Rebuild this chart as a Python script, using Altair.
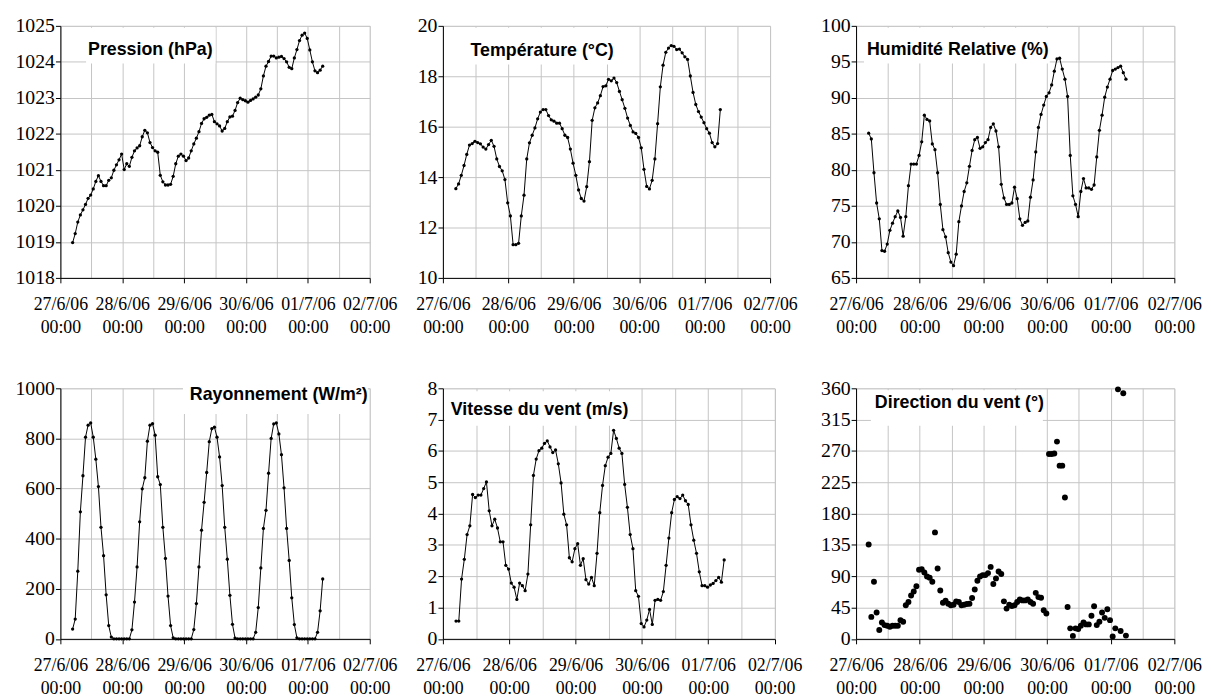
import altair as alt
import pandas as pd

# ---------------- data ----------------
day_labels = ["27/6/06", "28/6/06", "29/6/06", "30/6/06", "01/7/06", "02/7/06"]
hour_label = "00:00"
axis_origin = "2006-06-27 00:00"
start_time = "2006-06-27 04:45"

pression = [1018.98, 1019.23, 1019.55, 1019.75, 1019.89, 1020.04, 1020.21, 1020.30, 1020.47, 1020.68,
            1020.84, 1020.68, 1020.56, 1020.56, 1020.71, 1020.78, 1020.99, 1021.14, 1021.28, 1021.44,
            1021.01, 1021.17, 1021.10, 1021.35, 1021.53, 1021.61, 1021.67, 1021.92, 1022.10, 1022.03,
            1021.76, 1021.62, 1021.53, 1021.49, 1020.85, 1020.67, 1020.58, 1020.58, 1020.60, 1020.82,
            1021.17, 1021.38, 1021.44, 1021.38, 1021.26, 1021.33, 1021.53, 1021.72, 1021.88, 1022.06,
            1022.29, 1022.42, 1022.46, 1022.52, 1022.54, 1022.34, 1022.28, 1022.22, 1022.08, 1022.15,
            1022.34, 1022.47, 1022.49, 1022.65, 1022.87, 1022.99, 1022.95, 1022.92, 1022.88, 1022.93,
            1022.97, 1023.02, 1023.08, 1023.25, 1023.61, 1023.88, 1024.01, 1024.16, 1024.16, 1024.11,
            1024.13, 1024.15, 1024.09, 1024.00, 1023.85, 1023.81, 1024.11, 1024.34, 1024.59, 1024.74,
            1024.80, 1024.65, 1024.33, 1024.00, 1023.75, 1023.70, 1023.77, 1023.88]

temperature = [13.54, 13.73, 14.07, 14.46, 14.90, 15.27, 15.33, 15.42, 15.37, 15.32,
               15.19, 15.11, 15.29, 15.46, 15.22, 14.72, 14.42, 14.25, 13.90, 12.98,
               12.46, 11.32, 11.32, 11.37, 12.46, 13.28, 14.72, 15.36, 15.66, 15.95,
               16.31, 16.58, 16.68, 16.68, 16.44, 16.27, 16.22, 16.14, 16.14, 15.92,
               15.66, 15.57, 15.11, 14.55, 14.07, 13.49, 13.15, 13.05, 13.62, 14.61,
               16.25, 16.75, 16.94, 17.23, 17.59, 17.62, 17.88, 17.82, 17.93, 17.75,
               17.40, 17.07, 16.73, 16.34, 16.05, 15.79, 15.73, 15.57, 15.16, 14.31,
               13.63, 13.53, 13.87, 14.72, 16.12, 17.58, 18.44, 18.95, 19.12, 19.22,
               19.19, 19.06, 19.08, 18.93, 18.77, 18.67, 18.01, 17.36, 16.88, 16.60,
               16.38, 16.16, 15.92, 15.74, 15.37, 15.20, 15.33, 16.68]

humidite = [85.1, 84.3, 79.6, 75.4, 73.2, 68.8, 68.7, 69.7, 71.6, 72.6,
            73.5, 74.3, 73.4, 70.8, 73.5, 77.8, 80.8, 80.8, 80.8, 82.0,
            83.9, 87.6, 87.0, 86.8, 83.6, 82.8, 79.6, 75.2, 71.7, 70.7,
            68.5, 67.2, 66.7, 68.3, 72.8, 75.0, 77.0, 78.2, 80.5, 82.7,
            84.2, 84.5, 83.0, 83.2, 83.8, 84.2, 85.9, 86.4, 85.4, 83.2,
            78.0, 76.1, 75.2, 75.2, 75.4, 77.6, 76.0, 73.2, 72.3, 72.7,
            72.9, 76.2, 78.6, 82.5, 85.9, 87.7, 89.0, 90.2, 90.7, 91.8,
            93.7, 95.4, 95.5, 94.0, 92.6, 90.2, 82.0, 76.4, 75.2, 73.5,
            77.0, 78.8, 77.5, 77.5, 77.3, 77.9, 81.8, 85.5, 87.6, 90.1,
            91.5, 92.6, 93.8, 94.0, 94.2, 94.4, 93.5, 92.6]

rayonnement = [39, 79, 270, 507, 651, 805, 853, 862, 805, 717, 608, 445, 332, 176, 53, 7,
               0, 0, 0, 0, 0, 0, 0,
               36, 147, 287, 467, 599, 643, 789, 853, 859, 813, 647, 616, 445, 321, 171, 53, 4,
               0, 0, 0, 0, 0, 0, 0,
               37, 141, 287, 434, 545, 664, 787, 839, 845, 805, 726, 612, 445, 318, 174, 58, 3,
               0, 0, 0, 0, 0, 0, 0,
               26, 125, 283, 441, 513, 661, 800, 858, 862, 818, 735, 603, 441, 313, 164, 57, 4,
               0, 0, 0, 0, 0, 0, 0,
               26, 112, 239]

vitesse = [0.57, 0.57, 1.91, 2.54, 3.33, 3.61, 4.61, 4.51, 4.59, 4.59,
           4.80, 5.01, 4.09, 3.61, 3.82, 3.54, 3.10, 3.10, 2.35, 2.23,
           1.78, 1.65, 1.26, 1.78, 1.70, 1.54, 2.07, 3.64, 5.22, 5.74,
           6.01, 6.09, 6.24, 6.32, 6.13, 5.95, 6.03, 5.59, 4.98, 3.98,
           3.64, 2.59, 2.46, 2.88, 3.04, 2.35, 2.56, 1.89, 1.75, 1.96,
           1.70, 2.73, 4.03, 4.90, 5.53, 5.80, 5.92, 6.66, 6.40, 6.09,
           5.92, 4.93, 4.20, 3.33, 2.88, 1.54, 1.36, 0.49, 0.38, 0.60,
           0.94, 0.46, 1.23, 1.26, 1.23, 1.51, 2.35, 3.22, 4.03, 4.45,
           4.54, 4.48, 4.59, 4.41, 4.29, 3.64, 3.15, 2.73, 2.14, 1.70,
           1.70, 1.65, 1.72, 1.77, 1.86, 1.96, 1.81, 2.52]

direction = [135.6, 31.6, 82.2, 37.8, 12.8, 23.6, 19.8, 18.9, 17.5, 18.9,
             18.9, 18.9, 26.9, 24.6, 48.2, 52.9, 62.4, 68.0, 75.6, 99.2,
             100.1, 95.4, 89.7, 88.0, 82.2, 153.0, 101.1, 69.4, 52.0, 54.8,
             50.5, 48.2, 49.1, 53.9, 52.9, 48.2, 49.1, 50.1, 50.5, 58.6,
             70.9, 83.6, 89.7, 91.6, 91.6, 94.5, 103.4, 78.9, 86.9,
             96.8, 93.1, 53.9, 43.5, 49.1, 47.2, 48.2, 52.9, 56.7, 55.3,
             55.3, 56.7, 52.9, 50.5, 66.1, 60.0, 59.0, 41.1, 36.4, 265.5,
             265.5, 266.4, 283.4, 248.9, 248.9, 203.1, 45.8, 15.1, 4.3, 15.1,
             14.2, 18.9, 23.6, 20.8, 20.8, 33.1, 46.8, 19.8, 24.6, 37.8,
             30.2, 42.5, 26.9, 3.3, 15.1, 358.5, 11.3, 352.9, 4.7]

titles = ["Pression (hPa)", "Température (°C)", "Humidité Relative (%)",
          "Rayonnement (W/m²)", "Vitesse du vent (m/s)", "Direction du vent (°)"]

ticks_p = [1018, 1019, 1020, 1021, 1022, 1023, 1024, 1025]
ticks_t = [10, 12, 14, 16, 18, 20]
ticks_h = [65, 70, 75, 80, 85, 90, 95, 100]
ticks_r = [0, 200, 400, 600, 800, 1000]
ticks_v = [0, 1, 2, 3, 4, 5, 6, 7, 8]
ticks_d = [0, 45, 90, 135, 180, 225, 270, 315, 360]

# ---------------- table ----------------
origin = pd.Timestamp(axis_origin)
times = pd.date_range(start_time, periods=len(pression), freq="h")
df = pd.DataFrame({
    "h": (times - origin) / pd.Timedelta(hours=1),
    "pression": pression,
    "temperature": temperature,
    "humidite": humidite,
    "rayonnement": rayonnement,
    "vitesse": vitesse,
})
times_dir = pd.date_range(start_time, periods=len(direction), freq="h")
df_dir = pd.DataFrame({"h": (times_dir - origin) / pd.Timedelta(hours=1), "direction": direction})

# ---------------- styling ----------------
SERIF = "'Liberation Serif', 'Times New Roman', 'DejaVu Serif', serif"
SANS = "'Liberation Sans', Arial, sans-serif"
GRID = "#c4c4c4"

label_expr = ("datum.value % 24 == 0 ? [" + str(day_labels) + "[datum.value / 24], '"
              + hour_label + "'] : ''")

x_axis = alt.Axis(
    values=list(range(0, 121, 12)), labelExpr=label_expr, title=None,
    grid=True, gridColor=GRID, gridWidth=1,
    tickOpacity={"condition": {"test": "datum.value % 24 == 0", "value": 1}, "value": 0},
    tickSize=5, tickColor="black", domainColor="black",
    labelFont=SERIF, labelFontSize=18, labelColor="black",
    labelPadding=13, labelLineHeight=23, labelFlush=False, labelOverlap=False,
)


def y_axis(ticks):
    return alt.Axis(values=ticks, format="d", title=None, grid=True, gridColor=GRID, gridWidth=1,
                    tickSize=5, tickColor="black", domainColor="black",
                    labelFont=SERIF, labelFontSize=20, labelColor="black",
                    labelPadding=1, labelFlush=False, labelOverlap=False)


def panel(data, field, ticks, title, w, h, box, txt, scatter=False):
    x = alt.X("h:Q", scale=alt.Scale(domain=[0, 120], nice=False, zero=False), axis=x_axis)
    y = alt.Y(f"{field}:Q", scale=alt.Scale(domain=[ticks[0], ticks[-1]], nice=False, zero=False),
              axis=y_axis(ticks))
    base = alt.Chart(data)
    if scatter:
        layers = [base.mark_circle(size=36, color="black", opacity=1).encode(x=x, y=y)]
    else:
        layers = [base.mark_line(color="black", strokeWidth=1).encode(x=x, y=y),
                  base.mark_circle(size=11, color="black", opacity=1).encode(x=x, y=y)]
    tdf = pd.DataFrame({"t": [title]})
    box_layer = alt.Chart(tdf).mark_rect(color="white").encode(
        x=alt.value(box[0]), x2=alt.value(box[1]), y=alt.value(box[2]), y2=alt.value(box[3]))
    text_layer = alt.Chart(tdf).mark_text(
        align="left", baseline="alphabetic", font=SANS, fontWeight="bold",
        fontSize=18, color="black").encode(x=alt.value(txt[0]), y=alt.value(txt[1]), text="t:N")
    return alt.layer(*layers, box_layer, text_layer).properties(width=w, height=h)


def spacer(w, h):
    tdf = pd.DataFrame({"t": [""]})
    return alt.Chart(tdf).mark_point(opacity=0).encode(
        x=alt.value(0), y=alt.value(0)).properties(
        width=w, height=h, view=alt.ViewBackground(strokeOpacity=0))


p1 = panel(df, "pression", ticks_p, titles[0], 313, 255, (26, 157, 2, 38), (28, 29))
p2 = panel(df, "temperature", ticks_t, titles[1], 331, 255, (24, 171, 2, 39), (28, 30))
p3 = panel(df, "humidite", ticks_h, titles[2], 322, 255, (8, 196, 2, 38), (11, 29))
p4 = panel(df, "rayonnement", ticks_r, titles[3], 313, 253.5, (124, 311, -6, 26), (131, 12))
p5 = panel(df, "vitesse", ticks_v, titles[4], 335.6, 253.5, (2, 189, 3, 38), (8, 27))
p6 = panel(df_dir, "direction", ticks_d, titles[5], 322, 253.5, (15, 189, 2, 38), (19, 20), scatter=True)

chart = alt.concat(
    p1, spacer(73.7, 10), p2, spacer(81.6, 10), p3,
    p4, spacer(68.7, 10), p5, spacer(82, 10), p6,
    columns=5, spacing={"row": 111.7, "column": 0}, bounds="flush", align="none",
).properties(
    padding={"left": 6, "top": 3, "right": 0, "bottom": 0}
).configure_view(stroke="#333333", strokeWidth=1).configure(background="white")

chart.save("out.html", embed_options={"renderer": "svg", "actions": False})
